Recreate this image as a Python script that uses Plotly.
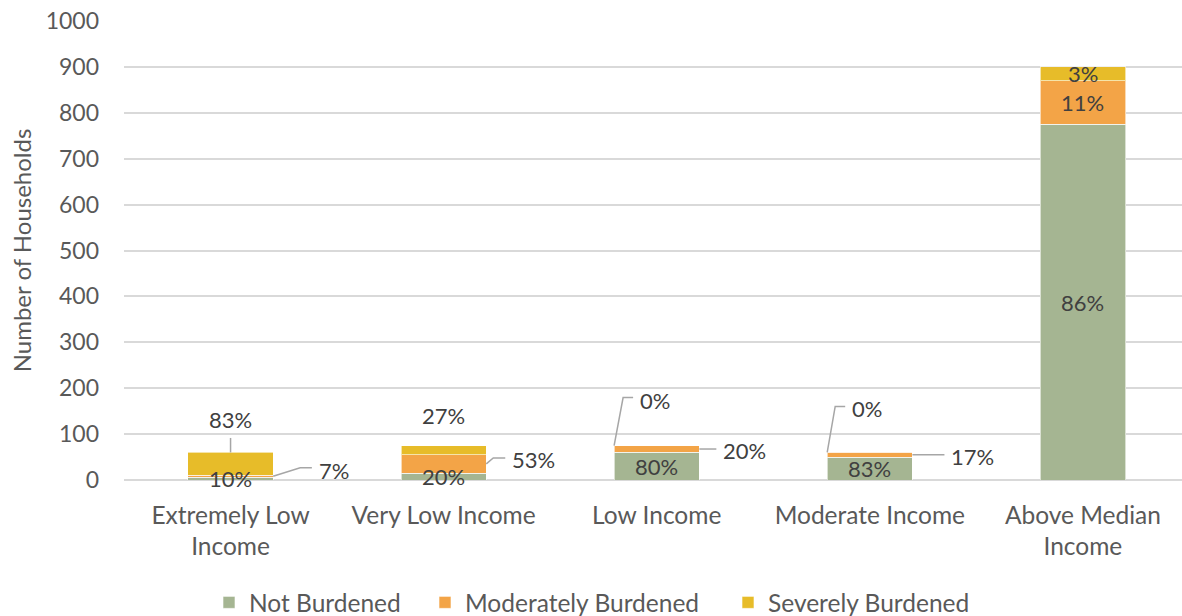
import plotly.graph_objects as go

categories = ["Extremely Low<br>Income", "Very Low Income", "Low Income", "Moderate Income", "Above Median<br>Income"]
not_burdened = [6, 15, 60, 50, 775]
moderately_burdened = [4, 40, 15, 10, 95]
severely_burdened = [50, 20, 0, 0, 30]
series_names = ["Not Burdened", "Moderately Burdened", "Severely Burdened"]
colors = ["#A5B592", "#F3A447", "#E7BC29"]

FONT = "Lato"
TXT = "#595959"
LBL = "#404040"
LINE = "#A6A6A6"
x_idx = list(range(len(categories)))
BW = 0.4

legend_ids = ["legend", "legend2", "legend3"]
legend_left_px = [209, 425, 728]

fig = go.Figure()
for name, vals, col, lid in zip(series_names, [not_burdened, moderately_burdened, severely_burdened], colors, legend_ids):
    fig.add_trace(go.Bar(
        x=x_idx, y=vals, name=name, width=BW, legend=lid,
        marker=dict(color=col, line=dict(color="rgba(255,255,255,0.6)", width=1)),
        hoverinfo="skip",
    ))

totals = [a + b + c for a, b, c in zip(not_burdened, moderately_burdened, severely_burdened)]

def pct(v, t):
    return f"{round(100 * v / t)}%"

# placement styles (screen-pixel offsets, y downwards)
placements = {
    (0, 0): ("in",), (0, 1): ("in",), (0, 2): ("in",), (0, 3): ("in",), (0, 4): ("in",),
    (1, 4): ("in",), (2, 4): ("in",),
    (1, 0): ("call", 1, "mid", [(27, -8.6), (38.7, -8.6)], 44, -6, "left"),
    (1, 1): ("call", 1, "mid", [(7, -6), (19, -6)], 24, -4, "left"),
    (1, 2): ("call", 1, "mid", [(17, 0)], 22, 1, "left"),
    (1, 3): ("call", 1, "mid", [(32, 0)], 37, 2, "left"),
    (2, 0): ("call", 0, "top", [(0, -14.5)], 0, -32.5, "center"),
    (2, 1): ("call", 0, "top", [], 0, -29.6, "center"),
    (2, 2): ("call", -1, "top", [(9, -48), (19, -48)], 24, -45, "left"),
    (2, 3): ("call", -1, "top", [(8, -46), (18, -46)], 23, -44, "left"),
}

series_vals = [not_burdened, moderately_burdened, severely_burdened]
ann = []
shapes = []
for s in range(3):
    for c in x_idx:
        base = sum(series_vals[k][c] for k in range(s))
        v = series_vals[s][c]
        label = pct(v, totals[c])
        p = placements[(s, c)]
        if p[0] == "in":
            ann.append(dict(x=c, y=base + v / 2, text=label, showarrow=False,
                            font=dict(family=FONT, size=22, color=LBL)))
        else:
            _, side, spot, pts, tdx, tdy, tanchor = p
            xp = c + side * BW / 2
            yp = base + v / 2 if spot == "mid" else base + v
            if pts:
                path = "M0,0 " + " ".join(f"L{dx},{-dy}" for dx, dy in pts)
                shapes.append(dict(type="path", xref="x", yref="y",
                                   xsizemode="pixel", ysizemode="pixel",
                                   xanchor=xp, yanchor=yp, path=path,
                                   line=dict(color=LINE, width=1.5), layer="above"))
            ann.append(dict(x=xp, y=yp, text=label, showarrow=False,
                            xanchor=tanchor, yanchor="middle",
                            xshift=tdx, yshift=-tdy,
                            font=dict(family=FONT, size=22, color=LBL)))

legend_common = dict(orientation="h", xref="container", yref="container",
                     xanchor="left", y=0.022, yanchor="middle",
                     font=dict(family=FONT, size=24.5, color=TXT),
                     itemwidth=30, bgcolor="rgba(0,0,0,0)")

fig.update_layout(
    width=1182, height=616,
    margin=dict(l=124, r=0, t=21, b=136),
    plot_bgcolor="white", paper_bgcolor="white",
    barmode="stack",
    font=dict(family=FONT, size=22, color=TXT),
    annotations=ann,
    shapes=shapes,
    showlegend=True,
    legend=dict(legend_common, x=legend_left_px[0] / 1182),
    legend2=dict(legend_common, x=legend_left_px[1] / 1182),
    legend3=dict(legend_common, x=legend_left_px[2] / 1182),
    xaxis=dict(tickmode="array", tickvals=x_idx, ticktext=categories,
               range=[-0.5, 4.465], showgrid=False, zeroline=False,
               tickfont=dict(family=FONT, size=24.5, color=TXT), ticks="",
               ticklabelstandoff=18),
    yaxis=dict(range=[0, 1000], dtick=100, showgrid=True, gridcolor="#D9D9D9",
               gridwidth=1.5, zeroline=True, zerolinecolor="#D9D9D9", zerolinewidth=1.5,
               tickfont=dict(family=FONT, size=23, color=TXT), ticklabelstandoff=24,
               title=dict(text="Number of Households", standoff=7,
                          font=dict(family=FONT, size=24, color=TXT))),
)

fig.write_html("out.html")
